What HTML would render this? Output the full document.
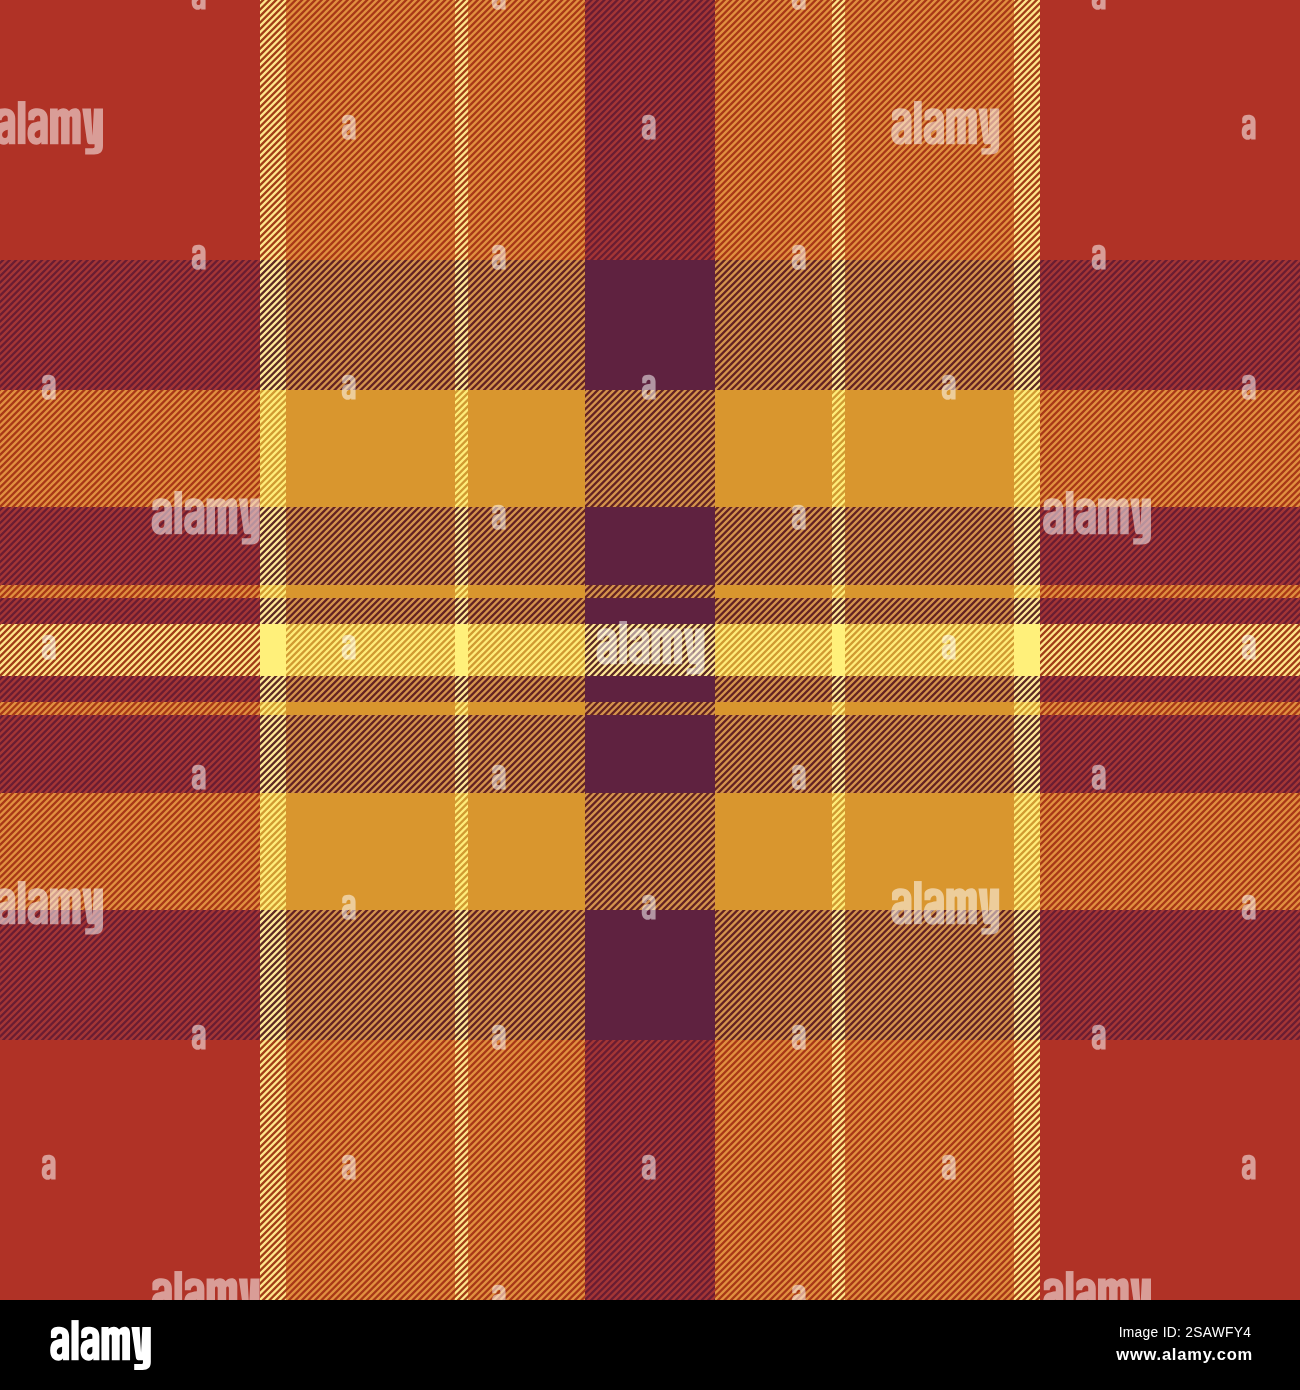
<!DOCTYPE html>
<html><head><meta charset="utf-8"><title>tartan</title>
<style>
html,body{margin:0;padding:0;background:#000;}
body{width:1300px;height:1390px;position:relative;overflow:hidden;font-family:"Liberation Sans",sans-serif;}
#footer{position:absolute;left:0;top:1300px;width:1300px;height:90px;background:#000;}
</style></head><body>
<svg width="1300" height="1300" viewBox="0 0 1300 1300" style="position:absolute;left:0;top:0;display:block">
<defs>
<pattern id="prp" width="13" height="13" patternUnits="userSpaceOnUse"><rect width="13" height="13" fill="#a43634"/><path d="M-8 4.650L21 -24.350M-8 11.150L21 -17.850M-8 17.650L21 -11.350M-8 24.150L21 -4.850M-8 30.650L21 1.650M-8 37.150L21 8.150M-8 43.650L21 14.650" stroke="#6b1d32" stroke-width="2.298" fill="none"/></pattern>
<pattern id="pro" width="13" height="13" patternUnits="userSpaceOnUse"><rect width="13" height="13" fill="#a83916"/><path d="M-8 4.650L21 -24.350M-8 11.150L21 -17.850M-8 17.650L21 -11.350M-8 24.150L21 -4.850M-8 30.650L21 1.650M-8 37.150L21 8.150M-8 43.650L21 14.650" stroke="#e18f3f" stroke-width="2.298" fill="none"/></pattern>
<pattern id="pry" width="13" height="13" patternUnits="userSpaceOnUse"><rect width="13" height="13" fill="#a03d17"/><path d="M-8 4.650L21 -24.350M-8 11.150L21 -17.850M-8 17.650L21 -11.350M-8 24.150L21 -4.850M-8 30.650L21 1.650M-8 37.150L21 8.150M-8 43.650L21 14.650" stroke="#ffe589" stroke-width="2.298" fill="none"/></pattern>
<pattern id="ppr" width="13" height="13" patternUnits="userSpaceOnUse"><rect width="13" height="13" fill="#6b1d32"/><path d="M-8 4.650L21 -24.350M-8 11.150L21 -17.850M-8 17.650L21 -11.350M-8 24.150L21 -4.850M-8 30.650L21 1.650M-8 37.150L21 8.150M-8 43.650L21 14.650" stroke="#a43634" stroke-width="2.298" fill="none"/></pattern>
<pattern id="ppo" width="13" height="13" patternUnits="userSpaceOnUse"><rect width="13" height="13" fill="#642422"/><path d="M-8 4.650L21 -24.350M-8 11.150L21 -17.850M-8 17.650L21 -11.350M-8 24.150L21 -4.850M-8 30.650L21 1.650M-8 37.150L21 8.150M-8 43.650L21 14.650" stroke="#d4934d" stroke-width="2.298" fill="none"/></pattern>
<pattern id="ppy" width="13" height="13" patternUnits="userSpaceOnUse"><rect width="13" height="13" fill="#5b2923"/><path d="M-8 4.650L21 -24.350M-8 11.150L21 -17.850M-8 17.650L21 -11.350M-8 24.150L21 -4.850M-8 30.650L21 1.650M-8 37.150L21 8.150M-8 43.650L21 14.650" stroke="#ffe897" stroke-width="2.298" fill="none"/></pattern>
<pattern id="por" width="13" height="13" patternUnits="userSpaceOnUse"><rect width="13" height="13" fill="#e18f3f"/><path d="M-8 4.650L21 -24.350M-8 11.150L21 -17.850M-8 17.650L21 -11.350M-8 24.150L21 -4.850M-8 30.650L21 1.650M-8 37.150L21 8.150M-8 43.650L21 14.650" stroke="#a83916" stroke-width="2.298" fill="none"/></pattern>
<pattern id="pop" width="13" height="13" patternUnits="userSpaceOnUse"><rect width="13" height="13" fill="#d4934d"/><path d="M-8 4.650L21 -24.350M-8 11.150L21 -17.850M-8 17.650L21 -11.350M-8 24.150L21 -4.850M-8 30.650L21 1.650M-8 37.150L21 8.150M-8 43.650L21 14.650" stroke="#642422" stroke-width="2.298" fill="none"/></pattern>
<pattern id="poy" width="13" height="13" patternUnits="userSpaceOnUse"><rect width="13" height="13" fill="#d09a30"/><path d="M-8 4.650L21 -24.350M-8 11.150L21 -17.850M-8 17.650L21 -11.350M-8 24.150L21 -4.850M-8 30.650L21 1.650M-8 37.150L21 8.150M-8 43.650L21 14.650" stroke="#ffec79" stroke-width="2.298" fill="none"/></pattern>
<pattern id="pyr" width="13" height="13" patternUnits="userSpaceOnUse"><rect width="13" height="13" fill="#ffe589"/><path d="M-8 4.650L21 -24.350M-8 11.150L21 -17.850M-8 17.650L21 -11.350M-8 24.150L21 -4.850M-8 30.650L21 1.650M-8 37.150L21 8.150M-8 43.650L21 14.650" stroke="#a03d17" stroke-width="2.298" fill="none"/></pattern>
<pattern id="pyp" width="13" height="13" patternUnits="userSpaceOnUse"><rect width="13" height="13" fill="#ffe897"/><path d="M-8 4.650L21 -24.350M-8 11.150L21 -17.850M-8 17.650L21 -11.350M-8 24.150L21 -4.850M-8 30.650L21 1.650M-8 37.150L21 8.150M-8 43.650L21 14.650" stroke="#5b2923" stroke-width="2.298" fill="none"/></pattern>
<pattern id="pyo" width="13" height="13" patternUnits="userSpaceOnUse"><rect width="13" height="13" fill="#ffec79"/><path d="M-8 4.650L21 -24.350M-8 11.150L21 -17.850M-8 17.650L21 -11.350M-8 24.150L21 -4.850M-8 30.650L21 1.650M-8 37.150L21 8.150M-8 43.650L21 14.650" stroke="#d09a30" stroke-width="2.298" fill="none"/></pattern>
<filter id="soft" filterUnits="userSpaceOnUse" x="-30" y="-30" width="1360" height="1360"><feGaussianBlur stdDeviation="0.45"/></filter>
</defs>
<g filter="url(#soft)">
<rect x="-20" y="-20" width="280" height="280" fill="#b03226"/>
<rect x="260" y="-20" width="26" height="280" fill="url(#pyr)"/>
<rect x="286" y="-20" width="169" height="280" fill="url(#por)"/>
<rect x="455" y="-20" width="13" height="280" fill="url(#pyr)"/>
<rect x="468" y="-20" width="117" height="280" fill="url(#por)"/>
<rect x="585" y="-20" width="130" height="280" fill="url(#ppr)"/>
<rect x="715" y="-20" width="117" height="280" fill="url(#por)"/>
<rect x="832" y="-20" width="13" height="280" fill="url(#pyr)"/>
<rect x="845" y="-20" width="169" height="280" fill="url(#por)"/>
<rect x="1014" y="-20" width="26" height="280" fill="url(#pyr)"/>
<rect x="1040" y="-20" width="280" height="280" fill="#b03226"/>
<rect x="-20" y="260" width="280" height="130" fill="url(#prp)"/>
<rect x="260" y="260" width="26" height="130" fill="url(#pyp)"/>
<rect x="286" y="260" width="169" height="130" fill="url(#pop)"/>
<rect x="455" y="260" width="13" height="130" fill="url(#pyp)"/>
<rect x="468" y="260" width="117" height="130" fill="url(#pop)"/>
<rect x="585" y="260" width="130" height="130" fill="#5f2140"/>
<rect x="715" y="260" width="117" height="130" fill="url(#pop)"/>
<rect x="832" y="260" width="13" height="130" fill="url(#pyp)"/>
<rect x="845" y="260" width="169" height="130" fill="url(#pop)"/>
<rect x="1014" y="260" width="26" height="130" fill="url(#pyp)"/>
<rect x="1040" y="260" width="280" height="130" fill="url(#prp)"/>
<rect x="-20" y="390" width="280" height="117" fill="url(#pro)"/>
<rect x="260" y="390" width="26" height="117" fill="url(#pyo)"/>
<rect x="286" y="390" width="169" height="117" fill="#d9962f"/>
<rect x="455" y="390" width="13" height="117" fill="url(#pyo)"/>
<rect x="468" y="390" width="117" height="117" fill="#d9962f"/>
<rect x="585" y="390" width="130" height="117" fill="url(#ppo)"/>
<rect x="715" y="390" width="117" height="117" fill="#d9962f"/>
<rect x="832" y="390" width="13" height="117" fill="url(#pyo)"/>
<rect x="845" y="390" width="169" height="117" fill="#d9962f"/>
<rect x="1014" y="390" width="26" height="117" fill="url(#pyo)"/>
<rect x="1040" y="390" width="280" height="117" fill="url(#pro)"/>
<rect x="-20" y="507" width="280" height="78" fill="url(#prp)"/>
<rect x="260" y="507" width="26" height="78" fill="url(#pyp)"/>
<rect x="286" y="507" width="169" height="78" fill="url(#pop)"/>
<rect x="455" y="507" width="13" height="78" fill="url(#pyp)"/>
<rect x="468" y="507" width="117" height="78" fill="url(#pop)"/>
<rect x="585" y="507" width="130" height="78" fill="#5f2140"/>
<rect x="715" y="507" width="117" height="78" fill="url(#pop)"/>
<rect x="832" y="507" width="13" height="78" fill="url(#pyp)"/>
<rect x="845" y="507" width="169" height="78" fill="url(#pop)"/>
<rect x="1014" y="507" width="26" height="78" fill="url(#pyp)"/>
<rect x="1040" y="507" width="280" height="78" fill="url(#prp)"/>
<rect x="-20" y="585" width="280" height="13" fill="url(#pro)"/>
<rect x="260" y="585" width="26" height="13" fill="url(#pyo)"/>
<rect x="286" y="585" width="169" height="13" fill="#d9962f"/>
<rect x="455" y="585" width="13" height="13" fill="url(#pyo)"/>
<rect x="468" y="585" width="117" height="13" fill="#d9962f"/>
<rect x="585" y="585" width="130" height="13" fill="url(#ppo)"/>
<rect x="715" y="585" width="117" height="13" fill="#d9962f"/>
<rect x="832" y="585" width="13" height="13" fill="url(#pyo)"/>
<rect x="845" y="585" width="169" height="13" fill="#d9962f"/>
<rect x="1014" y="585" width="26" height="13" fill="url(#pyo)"/>
<rect x="1040" y="585" width="280" height="13" fill="url(#pro)"/>
<rect x="-20" y="598" width="280" height="26" fill="url(#prp)"/>
<rect x="260" y="598" width="26" height="26" fill="url(#pyp)"/>
<rect x="286" y="598" width="169" height="26" fill="url(#pop)"/>
<rect x="455" y="598" width="13" height="26" fill="url(#pyp)"/>
<rect x="468" y="598" width="117" height="26" fill="url(#pop)"/>
<rect x="585" y="598" width="130" height="26" fill="#5f2140"/>
<rect x="715" y="598" width="117" height="26" fill="url(#pop)"/>
<rect x="832" y="598" width="13" height="26" fill="url(#pyp)"/>
<rect x="845" y="598" width="169" height="26" fill="url(#pop)"/>
<rect x="1014" y="598" width="26" height="26" fill="url(#pyp)"/>
<rect x="1040" y="598" width="280" height="26" fill="url(#prp)"/>
<rect x="-20" y="624" width="280" height="52" fill="url(#pry)"/>
<rect x="260" y="624" width="26" height="52" fill="#fff07a"/>
<rect x="286" y="624" width="169" height="52" fill="url(#poy)"/>
<rect x="455" y="624" width="13" height="52" fill="#fff07a"/>
<rect x="468" y="624" width="117" height="52" fill="url(#poy)"/>
<rect x="585" y="624" width="130" height="52" fill="url(#ppy)"/>
<rect x="715" y="624" width="117" height="52" fill="url(#poy)"/>
<rect x="832" y="624" width="13" height="52" fill="#fff07a"/>
<rect x="845" y="624" width="169" height="52" fill="url(#poy)"/>
<rect x="1014" y="624" width="26" height="52" fill="#fff07a"/>
<rect x="1040" y="624" width="280" height="52" fill="url(#pry)"/>
<rect x="-20" y="676" width="280" height="26" fill="url(#prp)"/>
<rect x="260" y="676" width="26" height="26" fill="url(#pyp)"/>
<rect x="286" y="676" width="169" height="26" fill="url(#pop)"/>
<rect x="455" y="676" width="13" height="26" fill="url(#pyp)"/>
<rect x="468" y="676" width="117" height="26" fill="url(#pop)"/>
<rect x="585" y="676" width="130" height="26" fill="#5f2140"/>
<rect x="715" y="676" width="117" height="26" fill="url(#pop)"/>
<rect x="832" y="676" width="13" height="26" fill="url(#pyp)"/>
<rect x="845" y="676" width="169" height="26" fill="url(#pop)"/>
<rect x="1014" y="676" width="26" height="26" fill="url(#pyp)"/>
<rect x="1040" y="676" width="280" height="26" fill="url(#prp)"/>
<rect x="-20" y="702" width="280" height="13" fill="url(#pro)"/>
<rect x="260" y="702" width="26" height="13" fill="url(#pyo)"/>
<rect x="286" y="702" width="169" height="13" fill="#d9962f"/>
<rect x="455" y="702" width="13" height="13" fill="url(#pyo)"/>
<rect x="468" y="702" width="117" height="13" fill="#d9962f"/>
<rect x="585" y="702" width="130" height="13" fill="url(#ppo)"/>
<rect x="715" y="702" width="117" height="13" fill="#d9962f"/>
<rect x="832" y="702" width="13" height="13" fill="url(#pyo)"/>
<rect x="845" y="702" width="169" height="13" fill="#d9962f"/>
<rect x="1014" y="702" width="26" height="13" fill="url(#pyo)"/>
<rect x="1040" y="702" width="280" height="13" fill="url(#pro)"/>
<rect x="-20" y="715" width="280" height="78" fill="url(#prp)"/>
<rect x="260" y="715" width="26" height="78" fill="url(#pyp)"/>
<rect x="286" y="715" width="169" height="78" fill="url(#pop)"/>
<rect x="455" y="715" width="13" height="78" fill="url(#pyp)"/>
<rect x="468" y="715" width="117" height="78" fill="url(#pop)"/>
<rect x="585" y="715" width="130" height="78" fill="#5f2140"/>
<rect x="715" y="715" width="117" height="78" fill="url(#pop)"/>
<rect x="832" y="715" width="13" height="78" fill="url(#pyp)"/>
<rect x="845" y="715" width="169" height="78" fill="url(#pop)"/>
<rect x="1014" y="715" width="26" height="78" fill="url(#pyp)"/>
<rect x="1040" y="715" width="280" height="78" fill="url(#prp)"/>
<rect x="-20" y="793" width="280" height="117" fill="url(#pro)"/>
<rect x="260" y="793" width="26" height="117" fill="url(#pyo)"/>
<rect x="286" y="793" width="169" height="117" fill="#d9962f"/>
<rect x="455" y="793" width="13" height="117" fill="url(#pyo)"/>
<rect x="468" y="793" width="117" height="117" fill="#d9962f"/>
<rect x="585" y="793" width="130" height="117" fill="url(#ppo)"/>
<rect x="715" y="793" width="117" height="117" fill="#d9962f"/>
<rect x="832" y="793" width="13" height="117" fill="url(#pyo)"/>
<rect x="845" y="793" width="169" height="117" fill="#d9962f"/>
<rect x="1014" y="793" width="26" height="117" fill="url(#pyo)"/>
<rect x="1040" y="793" width="280" height="117" fill="url(#pro)"/>
<rect x="-20" y="910" width="280" height="130" fill="url(#prp)"/>
<rect x="260" y="910" width="26" height="130" fill="url(#pyp)"/>
<rect x="286" y="910" width="169" height="130" fill="url(#pop)"/>
<rect x="455" y="910" width="13" height="130" fill="url(#pyp)"/>
<rect x="468" y="910" width="117" height="130" fill="url(#pop)"/>
<rect x="585" y="910" width="130" height="130" fill="#5f2140"/>
<rect x="715" y="910" width="117" height="130" fill="url(#pop)"/>
<rect x="832" y="910" width="13" height="130" fill="url(#pyp)"/>
<rect x="845" y="910" width="169" height="130" fill="url(#pop)"/>
<rect x="1014" y="910" width="26" height="130" fill="url(#pyp)"/>
<rect x="1040" y="910" width="280" height="130" fill="url(#prp)"/>
<rect x="-20" y="1040" width="280" height="280" fill="#b03226"/>
<rect x="260" y="1040" width="26" height="280" fill="url(#pyr)"/>
<rect x="286" y="1040" width="169" height="280" fill="url(#por)"/>
<rect x="455" y="1040" width="13" height="280" fill="url(#pyr)"/>
<rect x="468" y="1040" width="117" height="280" fill="url(#por)"/>
<rect x="585" y="1040" width="130" height="280" fill="url(#ppr)"/>
<rect x="715" y="1040" width="117" height="280" fill="url(#por)"/>
<rect x="832" y="1040" width="13" height="280" fill="url(#pyr)"/>
<rect x="845" y="1040" width="169" height="280" fill="url(#por)"/>
<rect x="1014" y="1040" width="26" height="280" fill="url(#pyr)"/>
<rect x="1040" y="1040" width="280" height="280" fill="#b03226"/>
</g>
<defs><path id="ga" fill-rule="evenodd" d="M215,360L215,100C215,35 170,-3 105,-3C50,-3 18,12 8,48L8,120L70,120C72,92 90,70 112,70C128,70 135,82 135,98L135,128C100,132 60,140 40,152C12,170 0,205 0,255C0,320 35,366 95,366C120,366 138,352 146,338L146,360ZM135,215C110,218 75,235 75,265C75,285 88,297 105,297C125,297 135,280 135,262Z"/><g id="logo"><use href="#ga" transform="scale(0.953,1)"/><path d="M0,-75H78V360H0Z" transform="translate(230,0)"/><use href="#ga" transform="translate(328,0) scale(0.953,1)"/><path d="M0,360L0,0L78,0L78,22C92,6 112,-3 135,-3C160,-3 180,8 192,28C205,8 228,-3 252,-3C290,-3 310,24 310,72L310,360L225,360L225,100C225,88 219,82 211.5,82C204,82 198,88 198,100L198,360L112,360L112,100C112,88 106,82 98.5,82C91,82 85,88 85,100L85,360Z" transform="translate(555,0)"/><path d="M0,0L88,0L104,275L118,0L210,0L210,380C210,440 180,465 120,465L30,465L30,402L105,402C118,402 125,398 125,385L125,360L75,360C60,360 52,350 48,330Z" transform="translate(880,0)"/></g></defs>
<g fill="#fff" fill-opacity="0.52">
<use href="#logo" transform="translate(-5.00,108.47) scale(0.09908)"/>
<use href="#logo" transform="translate(891.20,108.47) scale(0.09908)"/>
<use href="#logo" transform="translate(151.60,498.47) scale(0.09908)"/>
<use href="#logo" transform="translate(1043.00,498.47) scale(0.09908)"/>
<use href="#logo" transform="translate(596.50,628.47) scale(0.09908)"/>
<use href="#logo" transform="translate(-5.00,888.47) scale(0.09908)"/>
<use href="#logo" transform="translate(891.20,888.47) scale(0.09908)"/>
<use href="#logo" transform="translate(151.60,1278.47) scale(0.09908)"/>
<use href="#logo" transform="translate(1043.00,1278.47) scale(0.09908)"/>
<use href="#ga" transform="translate(191.70,-15.00) scale(0.06457,0.06775)"/>
<use href="#ga" transform="translate(491.70,-15.00) scale(0.06457,0.06775)"/>
<use href="#ga" transform="translate(791.70,-15.00) scale(0.06457,0.06775)"/>
<use href="#ga" transform="translate(1091.70,-15.00) scale(0.06457,0.06775)"/>
<use href="#ga" transform="translate(341.70,115.00) scale(0.06457,0.06775)"/>
<use href="#ga" transform="translate(641.70,115.00) scale(0.06457,0.06775)"/>
<use href="#ga" transform="translate(1241.70,115.00) scale(0.06457,0.06775)"/>
<use href="#ga" transform="translate(191.70,245.00) scale(0.06457,0.06775)"/>
<use href="#ga" transform="translate(491.70,245.00) scale(0.06457,0.06775)"/>
<use href="#ga" transform="translate(791.70,245.00) scale(0.06457,0.06775)"/>
<use href="#ga" transform="translate(1091.70,245.00) scale(0.06457,0.06775)"/>
<use href="#ga" transform="translate(41.70,375.00) scale(0.06457,0.06775)"/>
<use href="#ga" transform="translate(341.70,375.00) scale(0.06457,0.06775)"/>
<use href="#ga" transform="translate(641.70,375.00) scale(0.06457,0.06775)"/>
<use href="#ga" transform="translate(941.70,375.00) scale(0.06457,0.06775)"/>
<use href="#ga" transform="translate(1241.70,375.00) scale(0.06457,0.06775)"/>
<use href="#ga" transform="translate(491.70,505.00) scale(0.06457,0.06775)"/>
<use href="#ga" transform="translate(791.70,505.00) scale(0.06457,0.06775)"/>
<use href="#ga" transform="translate(41.70,635.00) scale(0.06457,0.06775)"/>
<use href="#ga" transform="translate(341.70,635.00) scale(0.06457,0.06775)"/>
<use href="#ga" transform="translate(941.70,635.00) scale(0.06457,0.06775)"/>
<use href="#ga" transform="translate(1241.70,635.00) scale(0.06457,0.06775)"/>
<use href="#ga" transform="translate(191.70,765.00) scale(0.06457,0.06775)"/>
<use href="#ga" transform="translate(491.70,765.00) scale(0.06457,0.06775)"/>
<use href="#ga" transform="translate(791.70,765.00) scale(0.06457,0.06775)"/>
<use href="#ga" transform="translate(1091.70,765.00) scale(0.06457,0.06775)"/>
<use href="#ga" transform="translate(341.70,895.00) scale(0.06457,0.06775)"/>
<use href="#ga" transform="translate(641.70,895.00) scale(0.06457,0.06775)"/>
<use href="#ga" transform="translate(1241.70,895.00) scale(0.06457,0.06775)"/>
<use href="#ga" transform="translate(191.70,1025.00) scale(0.06457,0.06775)"/>
<use href="#ga" transform="translate(491.70,1025.00) scale(0.06457,0.06775)"/>
<use href="#ga" transform="translate(791.70,1025.00) scale(0.06457,0.06775)"/>
<use href="#ga" transform="translate(1091.70,1025.00) scale(0.06457,0.06775)"/>
<use href="#ga" transform="translate(41.70,1155.00) scale(0.06457,0.06775)"/>
<use href="#ga" transform="translate(341.70,1155.00) scale(0.06457,0.06775)"/>
<use href="#ga" transform="translate(641.70,1155.00) scale(0.06457,0.06775)"/>
<use href="#ga" transform="translate(941.70,1155.00) scale(0.06457,0.06775)"/>
<use href="#ga" transform="translate(1241.70,1155.00) scale(0.06457,0.06775)"/>
<use href="#ga" transform="translate(491.70,1285.00) scale(0.06457,0.06775)"/>
<use href="#ga" transform="translate(791.70,1285.00) scale(0.06457,0.06775)"/>
</g>
</svg>

<div id="footer">
<svg width="1300" height="90" viewBox="0 1300 1300 90" style="position:absolute;left:0;top:0;display:block"><use href="#logo" fill="#fff" transform="translate(50.2,1327) scale(0.09231)"/><g opacity="0.999" fill="#fff" font-family="Liberation Sans, sans-serif" text-anchor="end"><text x="1251.3" y="1336.9" font-size="13.8" letter-spacing="0.3">Image ID: 2SAWFY4</text><text x="1253.0" y="1360.3" font-weight="bold" font-size="16.5" letter-spacing="0.78">www.alamy.com</text></g></svg>
</div>
</body></html>
